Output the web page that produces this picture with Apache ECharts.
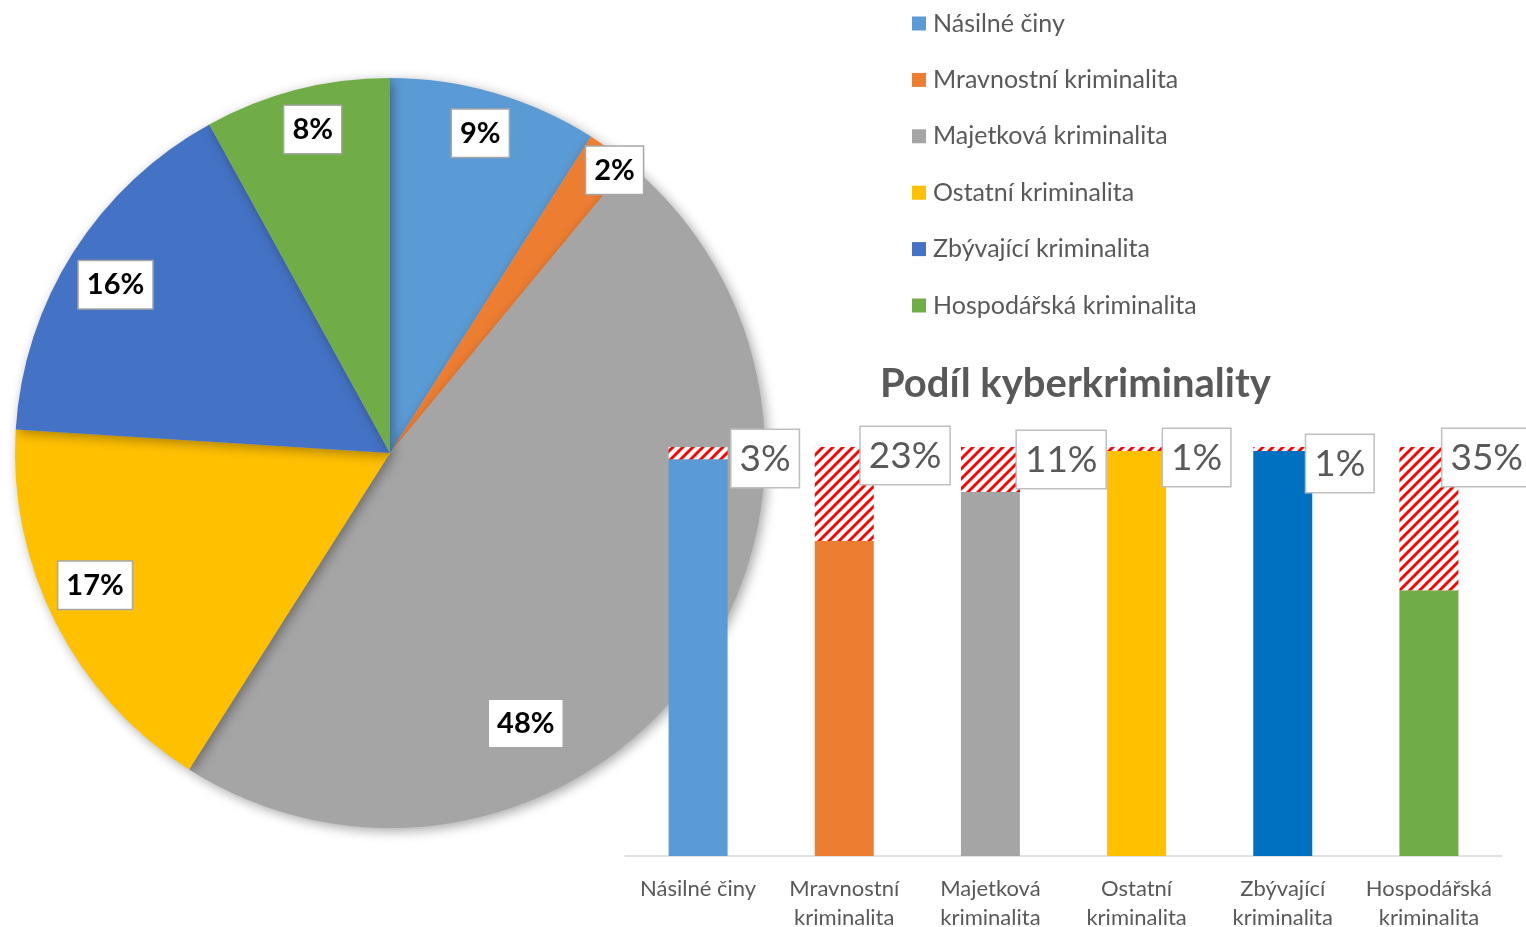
<!DOCTYPE html>
<html>
<head>
<meta charset="utf-8">
<script src="https://cdn.jsdelivr.net/npm/echarts@6/dist/echarts.min.js"></script>
<style>
  html, body { margin: 0; padding: 0; background: #fff; }
  #main { width: 1526px; height: 927px; }
</style>
</head>
<body>
<div id="main"></div>
<script>
// data
var pieNames = ['Násilné činy', 'Mravnostní kriminalita', 'Majetková kriminalita', 'Ostatní kriminalita', 'Zbývající kriminalita', 'Hospodářská kriminalita'];
var pieValues = [9, 2, 48, 17, 16, 8];
var pieColors = ['#5B9BD5', '#ED7D31', '#A5A5A5', '#FFC000', '#4472C4', '#70AD47'];

var barCategories = ['Násilné činy', 'Mravnostní\nkriminalita', 'Majetková\nkriminalita', 'Ostatní\nkriminalita', 'Zbývající\nkriminalita', 'Hospodářská\nkriminalita'];
var otherShare = [97, 77, 89, 99, 99, 65];
var cyberShare = [3, 23, 11, 1, 1, 35];
var barColors = ['#5B9BD5', '#ED7D31', '#A5A5A5', '#FFC000', '#0070C0', '#70AD47'];

// label nudges (layout only)
var pieLabelShift = [[-2, -2], [30, -15], [-132, 76], [0, -18], [5, 9], [5, -3]];
var barLabelPos = [[63, -17], [46, -20], [56, -16], [56, -18], [53, -12], [43, -18]];

// red/white hatch
function hatch() {
    var s = 10;
    var c = document.createElement('canvas');
    c.width = s; c.height = s;
    var ctx = c.getContext('2d');
    ctx.fillStyle = '#fff';
    ctx.fillRect(0, 0, s, s);
    ctx.strokeStyle = '#FF0000';
    ctx.lineWidth = 2.9;
    ctx.beginPath();
    ctx.moveTo(-1, 1); ctx.lineTo(1, -1);
    ctx.moveTo(0, s); ctx.lineTo(s, 0);
    ctx.moveTo(s - 1, s + 1); ctx.lineTo(s + 1, s - 1);
    ctx.stroke();
    return c;
}

var FONT = 'Lato, "Open Sans", sans-serif';
var myChart = echarts.init(document.getElementById('main'));

var pieData = pieNames.map(function(n, i) {
    return { name: n, value: pieValues[i], itemStyle: { color: pieColors[i] } };
});
var ringData = pieNames.map(function(n, i) {
    return { name: n, value: pieValues[i] };
});
var cyberData = cyberShare.map(function(v, i) {
    return { value: v, label: { position: barLabelPos[i] } };
});

var option = {
    animation: false,
    textStyle: { fontFamily: FONT },
    title: {
        text: 'Podíl kyberkriminality',
        left: 880,
        top: 364,
        padding: 0,
        textStyle: { fontFamily: FONT, fontSize: 40, fontWeight: 'bold', color: '#595959' }
    },
    legend: {
        data: pieNames,
        orient: 'vertical',
        left: 912,
        top: 11,
        padding: 0,
        icon: 'rect',
        itemWidth: 14,
        itemHeight: 14,
        itemGap: 31.4,
        textStyle: { fontFamily: FONT, fontSize: 25, color: '#595959', lineHeight: 24, padding: [0, 0, 0, 2] }
    },
    grid: { left: 625, right: 24, top: 447, bottom: 71, outerBoundsMode: 'none', containLabel: false },
    xAxis: {
        type: 'category',
        data: barCategories,
        axisLine: { lineStyle: { color: '#D9D9D9', width: 1.5 } },
        axisTick: { show: false },
        axisLabel: { interval: 0, color: '#595959', fontSize: 22, lineHeight: 29, margin: 18, fontFamily: FONT }
    },
    yAxis: { type: 'value', min: 0, max: 100, show: false },
    series: [
        {
            name: 'podíl',
            type: 'pie',
            center: [390, 453],
            radius: 375,
            startAngle: 90,
            data: pieData,
            label: { show: false },
            labelLine: { show: false },
            itemStyle: {
                shadowBlur: 12,
                shadowOffsetX: 3,
                shadowOffsetY: 3,
                shadowColor: 'rgba(0,0,0,0.35)'
            },
            silent: true
        },
        {
            name: 'popisky',
            type: 'pie',
            center: [390, 453],
            radius: [281, 375],
            startAngle: 90,
            data: ringData,
            itemStyle: { color: 'rgba(0,0,0,0)' },
            label: {
                show: true,
                position: 'inside',
                formatter: '{c}%',
                fontFamily: FONT,
                fontSize: 29,
                fontWeight: 'bold',
                color: '#000',
                backgroundColor: '#fff',
                borderColor: '#A6A6A6',
                borderWidth: 1.5,
                padding: [10, 8, 8, 8]
            },
            labelLayout: function(p) {
                var s = pieLabelShift[p.dataIndex];
                return { dx: s[0], dy: s[1] };
            },
            silent: true
        },
        {
            name: 'ostatní',
            type: 'bar',
            stack: 'a',
            barWidth: 59,
            data: otherShare,
            itemStyle: {
                color: function(p) { return barColors[p.dataIndex]; }
            },
            z: 5
        },
        {
            name: 'kyber',
            type: 'bar',
            stack: 'a',
            barWidth: 59,
            data: cyberData,
            itemStyle: { color: { image: hatch(), repeat: 'repeat' } },
            label: {
                show: true,
                formatter: '{c}%',
                fontFamily: FONT,
                fontSize: 37,
                color: '#595959',
                backgroundColor: '#fff',
                borderColor: '#BFBFBF',
                borderWidth: 1.5,
                padding: [11, 8, 9, 8]
            },
            z: 6
        }
    ]
};
myChart.setOption(option);
</script>
</body>
</html>
